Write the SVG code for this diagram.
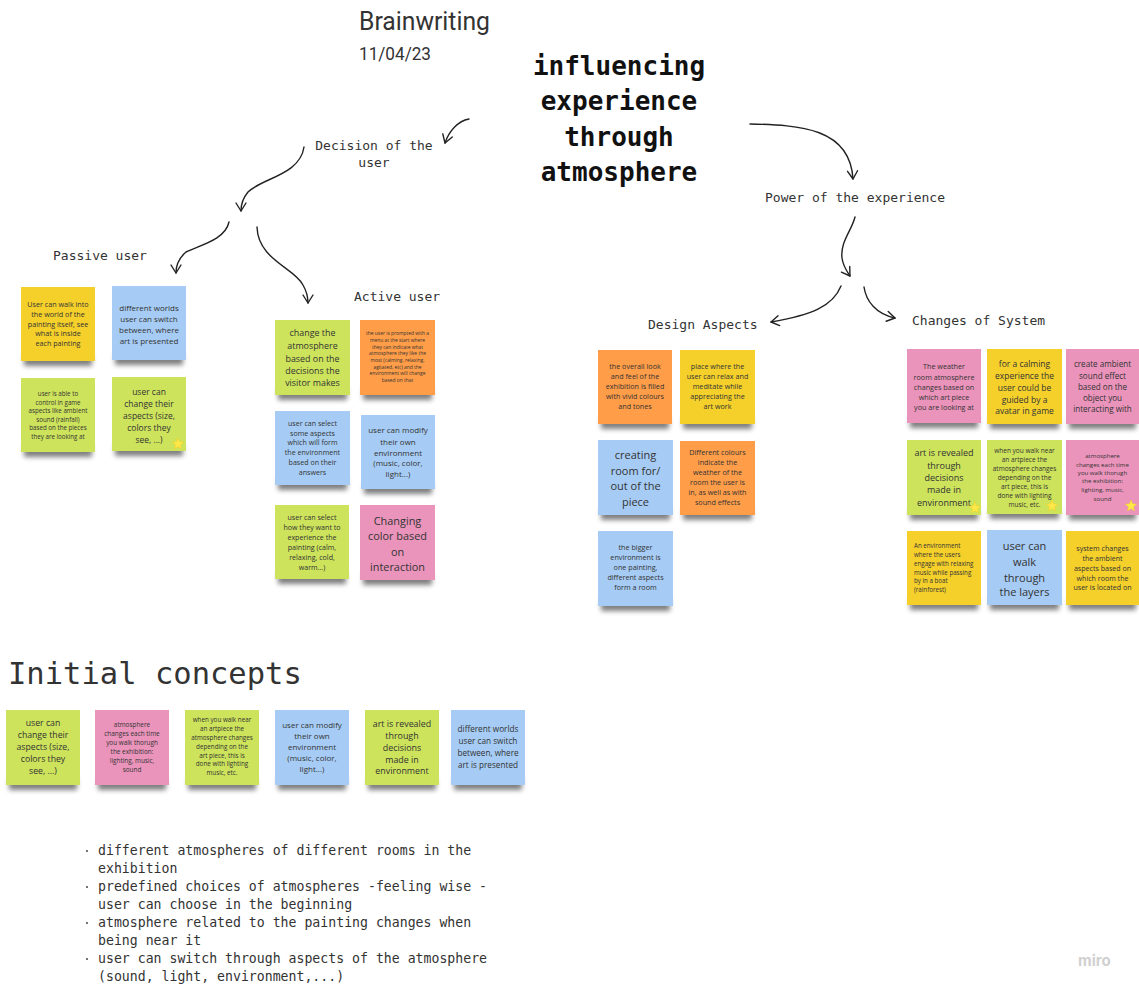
<svg xmlns="http://www.w3.org/2000/svg" xmlns:xlink="http://www.w3.org/1999/xlink" width="1139" height="985" viewBox="0 0 1139 985">
<defs>
<style>
.bg{fill:#ffffff}
.yel{fill:#f5d02b}
.blu{fill:#a6ccf5}
.grn{fill:#cde35c}
.org{fill:#ff9d48}
.pnk{fill:#ea94bb}
.sh{fill:#000;opacity:.5;filter:url(#blur)}
.t{font-family:"Open Sans","Liberation Sans",sans-serif;fill:#333;text-anchor:middle;dominant-baseline:central}
.tl{font-family:"Open Sans","Liberation Sans",sans-serif;fill:#333;text-anchor:start;dominant-baseline:central}
.lbl{font-family:"DejaVu Sans Mono","Liberation Mono",monospace;font-size:13px;fill:#333}
.ttl{font-family:"DejaVu Sans Mono","Liberation Mono",monospace;font-size:26px;font-weight:bold;fill:#111;text-anchor:middle}
.mono{font-family:"DejaVu Sans Mono","Liberation Mono",monospace;fill:#333}
.head{font-family:Roboto,"Open Sans","Liberation Sans",sans-serif;fill:#333}
.con path{fill:none;stroke:#222;stroke-width:1.4;stroke-linecap:round}
.star{fill:#ffe84a;stroke:#f2cf1e;stroke-width:.5}
</style>
<filter id="blur" x="-20%" y="-100%" width="140%" height="300%"><feGaussianBlur stdDeviation="2.6"/></filter>
<marker id="ah" viewBox="-10 -7 12 14" markerWidth="12" markerHeight="14" refX="0" refY="0" orient="auto" markerUnits="userSpaceOnUse">
<path d="M-8,-5 L0,0 L-8,5" fill="none" stroke="#222" stroke-width="1.4" stroke-linecap="round" stroke-linejoin="round"/>
</marker>
<path id="star" class="star" d="M0,-6 L1.55,-2.14 L5.71,-1.86 L2.51,0.82 L3.53,4.86 L0,2.64 L-3.53,4.86 L-2.51,0.82 L-5.71,-1.86 L-1.55,-2.14 Z"/>
</defs>
<rect class="bg" x="0" y="0" width="1139" height="985"/>

<g id="header">
<text class="head" x="359" y="30" font-size="25" textLength="131" lengthAdjust="spacingAndGlyphs">Brainwriting</text>
<text class="head" x="359" y="60" font-size="18" textLength="72" lengthAdjust="spacingAndGlyphs">11/04/23</text>
</g>

<g id="title">
<text class="ttl" x="619" y="74.5">influencing</text>
<text class="ttl" x="619" y="110">experience</text>
<text class="ttl" x="619" y="145.5">through</text>
<text class="ttl" x="619" y="181">atmosphere</text>
</g>

<g id="labels">
<g id="lbl-decision"><text class="lbl" x="374" y="150" text-anchor="middle">Decision of the</text><text class="lbl" x="374" y="167" text-anchor="middle">user</text></g>
<g id="lbl-passive"><text class="lbl" x="53" y="260">Passive user</text></g>
<g id="lbl-active"><text class="lbl" x="354" y="301">Active user</text></g>
<g id="lbl-power"><text class="lbl" x="765" y="202">Power of the experience</text></g>
<g id="lbl-design"><text class="lbl" x="648" y="329">Design Aspects</text></g>
<g id="lbl-changes"><text class="lbl" x="912" y="325">Changes of System</text></g>
</g>

<g id="connectors" class="con">
<path d="M469,119 C458,121 449,131 445,143" marker-end="url(#ah)"/>
<path d="M304,147 C300,175 262,178 248,192 C243,198 241,204 241,211" marker-end="url(#ah)"/>
<path d="M229,222 C225,240 200,245 186,252 C179,258 176,265 176,273" marker-end="url(#ah)"/>
<path d="M257,227 C258,260 295,268 303,285 C307,292 308,297 308,303" marker-end="url(#ah)"/>
<path d="M750,124 C800,125 850,128 853,179" marker-end="url(#ah)"/>
<path d="M855,217 C852,230 840,242 842,258 C843,266 846,270 850,276" marker-end="url(#ah)"/>
<path d="M841,286 C833,306 812,315 771,322" marker-end="url(#ah)"/>
<path d="M864,287 C866,301 876,314 895,318" marker-end="url(#ah)"/>
</g>

<!-- Passive user -->
<g id="p1"><rect class="sh" x="24" y="354" width="68" height="12"/><rect class="yel" x="21" y="287" width="74" height="74"/>
<text class="t" font-size="7.2"><tspan x="58" y="304">User can walk into</tspan><tspan x="58" y="313.5">the world of the</tspan><tspan x="58" y="323.5">painting itself, see</tspan><tspan x="58" y="333">what is inside</tspan><tspan x="58" y="343">each painting</tspan></text></g>
<g id="p2"><rect class="sh" x="115" y="353" width="68" height="12"/><rect class="blu" x="112" y="286" width="74" height="74"/>
<text class="t" font-size="8"><tspan x="149" y="307">different worlds</tspan><tspan x="149" y="318">user can switch</tspan><tspan x="149" y="329">between, where</tspan><tspan x="149" y="340">art is presented</tspan></text></g>
<g id="p3"><rect class="sh" x="24" y="445" width="68" height="12"/><rect class="grn" x="21" y="378" width="74" height="74"/>
<text class="t" font-size="6.2"><tspan x="58" y="393">user is able to</tspan><tspan x="58" y="401.5">control in game</tspan><tspan x="58" y="410">aspects like ambient</tspan><tspan x="58" y="418.5">sound (rainfall)</tspan><tspan x="58" y="427">based on the pieces</tspan><tspan x="58" y="435.5">they are looking at</tspan></text></g>
<g id="p4"><rect class="sh" x="115" y="444" width="68" height="12"/><rect class="grn" x="112" y="377" width="74" height="74"/>
<text class="t" font-size="8.5"><tspan x="149" y="391">user can</tspan><tspan x="149" y="403">change their</tspan><tspan x="149" y="415">aspects (size,</tspan><tspan x="149" y="427">colors they</tspan><tspan x="149" y="438.5">see, ...)</tspan></text>
<use xlink:href="#star" x="178" y="444"/></g>

<!-- Active user -->
<g id="a1"><rect class="sh" x="278" y="388" width="69" height="12"/><rect class="grn" x="275" y="320" width="75" height="75"/>
<text class="t" font-size="8.9"><tspan x="312.5" y="332">change the</tspan><tspan x="312.5" y="345">atmosphere</tspan><tspan x="312.5" y="358">based on the</tspan><tspan x="312.5" y="369.5">decisions the</tspan><tspan x="312.5" y="381.5">visitor makes</tspan></text></g>
<g id="a2"><rect class="sh" x="363" y="388" width="69" height="12"/><rect class="org" x="360" y="320" width="75" height="75"/>
<text class="t" font-size="4.9"><tspan x="397.5" y="333.3">the user is prompted with a</tspan><tspan x="397.5" y="340">menu at the start where</tspan><tspan x="397.5" y="346.7">they can indicate what</tspan><tspan x="397.5" y="353.3">atmosphere they like the</tspan><tspan x="397.5" y="360">most (calming, relaxing,</tspan><tspan x="397.5" y="366.7">agitated, etc) and the</tspan><tspan x="397.5" y="373.3">environment will change</tspan><tspan x="397.5" y="380">based on that</tspan></text></g>
<g id="a3"><rect class="sh" x="278" y="478" width="69" height="12"/><rect class="blu" x="275" y="411" width="75" height="74"/>
<text class="t" font-size="7.1"><tspan x="312.5" y="423">user can select</tspan><tspan x="312.5" y="432.5">some aspects</tspan><tspan x="312.5" y="442">which will form</tspan><tspan x="312.5" y="452">the environment</tspan><tspan x="312.5" y="462">based on their</tspan><tspan x="312.5" y="471.5">answers</tspan></text></g>
<g id="a4"><rect class="sh" x="364" y="482" width="68" height="12"/><rect class="blu" x="361" y="415" width="74" height="74"/>
<text class="t" font-size="8"><tspan x="398" y="429">user can modify</tspan><tspan x="398" y="440.5">their own</tspan><tspan x="398" y="451.5">environment</tspan><tspan x="398" y="462">(music, color,</tspan><tspan x="398" y="473">light...)</tspan></text></g>
<g id="a5"><rect class="sh" x="278" y="572" width="68" height="12"/><rect class="grn" x="275" y="505" width="74" height="74"/>
<text class="t" font-size="7.1"><tspan x="312" y="517">user can select</tspan><tspan x="312" y="527">how they want to</tspan><tspan x="312" y="537">experience the</tspan><tspan x="312" y="547">painting (calm,</tspan><tspan x="312" y="557">relaxing, cold,</tspan><tspan x="312" y="566.5">warm...)</tspan></text></g>
<g id="a6"><rect class="sh" x="363" y="573" width="69" height="12"/><rect class="pnk" x="360" y="505" width="75" height="75"/>
<text class="t" font-size="10.9"><tspan x="397.5" y="520">Changing</tspan><tspan x="397.5" y="535">color based</tspan><tspan x="397.5" y="550.5">on</tspan><tspan x="397.5" y="566">interaction</tspan></text></g>

<!-- Design Aspects -->
<g id="d1"><rect class="sh" x="601" y="417" width="68" height="12"/><rect class="org" x="598" y="350" width="74" height="74"/>
<text class="t" font-size="7.2"><tspan x="635" y="366">the overall look</tspan><tspan x="635" y="376">and feel of the</tspan><tspan x="635" y="386">exhibition is filled</tspan><tspan x="635" y="396">with vivid colours</tspan><tspan x="635" y="405.5">and tones</tspan></text></g>
<g id="d2"><rect class="sh" x="683" y="417" width="69" height="12"/><rect class="yel" x="680" y="350" width="75" height="74"/>
<text class="t" font-size="7.2"><tspan x="717.5" y="366">place where the</tspan><tspan x="717.5" y="376">user can relax and</tspan><tspan x="717.5" y="386">meditate while</tspan><tspan x="717.5" y="396">appreciating the</tspan><tspan x="717.5" y="405.5">art work</tspan></text></g>
<g id="d3"><rect class="sh" x="601" y="508" width="69" height="12"/><rect class="blu" x="598" y="440" width="75" height="75"/>
<text class="t" font-size="11"><tspan x="635.5" y="454">creating</tspan><tspan x="635.5" y="469.5">room for/</tspan><tspan x="635.5" y="485">out of the</tspan><tspan x="635.5" y="501">piece</tspan></text></g>
<g id="d4"><rect class="sh" x="683" y="508" width="69" height="12"/><rect class="org" x="680" y="441" width="75" height="74"/>
<text class="t" font-size="7.2"><tspan x="717.5" y="452">Different colours</tspan><tspan x="717.5" y="462">indicate the</tspan><tspan x="717.5" y="472">weather of the</tspan><tspan x="717.5" y="482">room the user is</tspan><tspan x="717.5" y="491.5">in, as well as with</tspan><tspan x="717.5" y="502">sound effects</tspan></text></g>
<g id="d5"><rect class="sh" x="601" y="599" width="69" height="12"/><rect class="blu" x="598" y="531" width="75" height="75"/>
<text class="t" font-size="7.2"><tspan x="635.5" y="547">the bigger</tspan><tspan x="635.5" y="557">environment is</tspan><tspan x="635.5" y="567">one painting,</tspan><tspan x="635.5" y="577">different aspects</tspan><tspan x="635.5" y="586.5">form a room</tspan></text></g>

<!-- Changes of System -->
<g id="c1"><rect class="sh" x="910" y="416" width="68" height="12"/><rect class="pnk" x="907" y="349" width="74" height="74"/>
<text class="t" font-size="7.2"><tspan x="944" y="366">The weather</tspan><tspan x="944" y="377">room atmosphere</tspan><tspan x="944" y="387">changes based on</tspan><tspan x="944" y="397">which art piece</tspan><tspan x="944" y="406.5">you are looking at</tspan></text></g>
<g id="c2"><rect class="sh" x="990" y="417" width="69" height="12"/><rect class="yel" x="987" y="349" width="75" height="75"/>
<text class="t" font-size="8.5"><tspan x="1024.5" y="363">for a calming</tspan><tspan x="1024.5" y="375">experience the</tspan><tspan x="1024.5" y="387">user could be</tspan><tspan x="1024.5" y="398.5">guided by a</tspan><tspan x="1024.5" y="410">avatar in game</tspan></text></g>
<g id="c3"><rect class="sh" x="1069" y="417" width="67" height="12"/><rect class="pnk" x="1066" y="349" width="73" height="75"/>
<text class="t" font-size="8.1"><tspan x="1102.5" y="363">create ambient</tspan><tspan x="1102.5" y="375">sound effect</tspan><tspan x="1102.5" y="386">based on the</tspan><tspan x="1102.5" y="397">object you</tspan><tspan x="1102.5" y="408">interacting with</tspan></text></g>
<g id="c4"><rect class="sh" x="910" y="508" width="68" height="12"/><rect class="grn" x="907" y="440" width="74" height="75"/>
<text class="t" font-size="9"><tspan x="944" y="452">art is revealed</tspan><tspan x="944" y="465">through</tspan><tspan x="944" y="477">decisions</tspan><tspan x="944" y="489">made in</tspan><tspan x="944" y="502">environment</tspan></text>
<use xlink:href="#star" x="975" y="508"/></g>
<g id="c5"><rect class="sh" x="990" y="507" width="69" height="12"/><rect class="grn" x="987" y="440" width="75" height="74"/>
<text class="t" font-size="6.5"><tspan x="1024.5" y="450">when you walk near</tspan><tspan x="1024.5" y="459">an artpiece the</tspan><tspan x="1024.5" y="468">atmosphere changes</tspan><tspan x="1024.5" y="477">depending on the</tspan><tspan x="1024.5" y="486">art piece, this is</tspan><tspan x="1024.5" y="495">done with lighting</tspan><tspan x="1024.5" y="504">music, etc.</tspan></text>
<use xlink:href="#star" x="1052" y="506"/></g>
<g id="c6"><rect class="sh" x="1069" y="508" width="67" height="12"/><rect class="pnk" x="1066" y="440" width="73" height="75"/>
<text class="t" font-size="6.1"><tspan x="1102.5" y="455">atmosphere</tspan><tspan x="1102.5" y="463.5">changes each time</tspan><tspan x="1102.5" y="472">you walk thorugh</tspan><tspan x="1102.5" y="480">the exhibition:</tspan><tspan x="1102.5" y="488.5">lighting, music,</tspan><tspan x="1102.5" y="497.5">sound</tspan></text>
<use xlink:href="#star" x="1131" y="506"/></g>
<g id="c7"><rect class="sh" x="910" y="598" width="68" height="12"/><rect class="yel" x="907" y="531" width="74" height="74"/>
<text class="tl" font-size="6.2"><tspan x="914" y="545">An environment</tspan><tspan x="914" y="554">where the users</tspan><tspan x="914" y="563">engage with relaxing</tspan><tspan x="914" y="572">music while passing</tspan><tspan x="914" y="580">by in a boat</tspan><tspan x="914" y="588.5">(rainforest)</tspan></text></g>
<g id="c8"><rect class="sh" x="990" y="598" width="69" height="12"/><rect class="blu" x="987" y="530" width="75" height="75"/>
<text class="t" font-size="11"><tspan x="1024.5" y="545">user can</tspan><tspan x="1024.5" y="560.5">walk</tspan><tspan x="1024.5" y="576.5">through</tspan><tspan x="1024.5" y="591">the layers</tspan></text></g>
<g id="c9"><rect class="sh" x="1069" y="598" width="67" height="12"/><rect class="yel" x="1066" y="531" width="73" height="74"/>
<text class="t" font-size="7.1"><tspan x="1102.5" y="548">system changes</tspan><tspan x="1102.5" y="558">the ambient</tspan><tspan x="1102.5" y="568">aspects based on</tspan><tspan x="1102.5" y="577.5">which room the</tspan><tspan x="1102.5" y="587">user is located on</tspan></text></g>

<g id="initial-concepts-title">
<text class="mono" x="8" y="684" font-size="30.5">Initial concepts</text>
</g>

<g id="i1"><rect class="sh" x="9" y="778" width="68" height="12"/><rect class="grn" x="6" y="710" width="74" height="75"/>
<text class="t" font-size="8.7"><tspan x="43" y="723">user can</tspan><tspan x="43" y="735">change their</tspan><tspan x="43" y="747">aspects (size,</tspan><tspan x="43" y="759">colors they</tspan><tspan x="43" y="771">see, ...)</tspan></text></g>
<g id="i2"><rect class="sh" x="98" y="778" width="68" height="12"/><rect class="pnk" x="95" y="710" width="74" height="75"/>
<text class="t" font-size="6.4"><tspan x="132" y="724">atmosphere</tspan><tspan x="132" y="733">changes each time</tspan><tspan x="132" y="742">you walk thorugh</tspan><tspan x="132" y="751">the exhibition:</tspan><tspan x="132" y="760">lighting, music,</tspan><tspan x="132" y="768.5">sound</tspan></text></g>
<g id="i3"><rect class="sh" x="188" y="778" width="68" height="12"/><rect class="grn" x="185" y="710" width="74" height="75"/>
<text class="t" font-size="6.3"><tspan x="222" y="719">when you walk near</tspan><tspan x="222" y="728">an artpiece the</tspan><tspan x="222" y="737">atmosphere changes</tspan><tspan x="222" y="746">depending on the</tspan><tspan x="222" y="754.5">art piece, this is</tspan><tspan x="222" y="763">done with lighting</tspan><tspan x="222" y="771.5">music, etc.</tspan></text></g>
<g id="i4"><rect class="sh" x="278" y="778" width="68" height="12"/><rect class="blu" x="275" y="710" width="74" height="75"/>
<text class="t" font-size="8"><tspan x="312" y="724">user can modify</tspan><tspan x="312" y="735">their own</tspan><tspan x="312" y="746">environment</tspan><tspan x="312" y="757">(music, color,</tspan><tspan x="312" y="768">light...)</tspan></text></g>
<g id="i5"><rect class="sh" x="368" y="778" width="68" height="12"/><rect class="grn" x="365" y="710" width="74" height="75"/>
<text class="t" font-size="8.9"><tspan x="402" y="723">art is revealed</tspan><tspan x="402" y="734.5">through</tspan><tspan x="402" y="747">decisions</tspan><tspan x="402" y="758.5">made in</tspan><tspan x="402" y="770">environment</tspan></text></g>
<g id="i6"><rect class="sh" x="454" y="778" width="68" height="12"/><rect class="blu" x="451" y="710" width="74" height="75"/>
<text class="t" font-size="8.2"><tspan x="488" y="728">different worlds</tspan><tspan x="488" y="740">user can switch</tspan><tspan x="488" y="752">between, where</tspan><tspan x="488" y="763.5">art is presented</tspan></text></g>

<g id="bullets">
<g fill="#444"><circle cx="87" cy="851" r="1"/><circle cx="87" cy="887" r="1"/><circle cx="87" cy="923" r="1"/><circle cx="87" cy="959" r="1"/></g>
<text class="mono" font-size="13.2"><tspan x="98" y="855">different atmospheres of different rooms in the</tspan><tspan x="98" y="873">exhibition</tspan><tspan x="98" y="891">predefined choices of atmospheres -feeling wise -</tspan><tspan x="98" y="909">user can choose in the beginning</tspan><tspan x="98" y="927">atmosphere related to the painting changes when</tspan><tspan x="98" y="945">being near it</tspan><tspan x="98" y="963">user can switch through aspects of the atmosphere</tspan><tspan x="98" y="981">(sound, light, environment,...)</tspan></text>
</g>

<g id="watermark">
<text x="1078" y="966" font-family="Inter,'Open Sans',sans-serif" font-size="15" font-weight="bold" fill="#d0d0d0">miro</text>
</g>
</svg>
